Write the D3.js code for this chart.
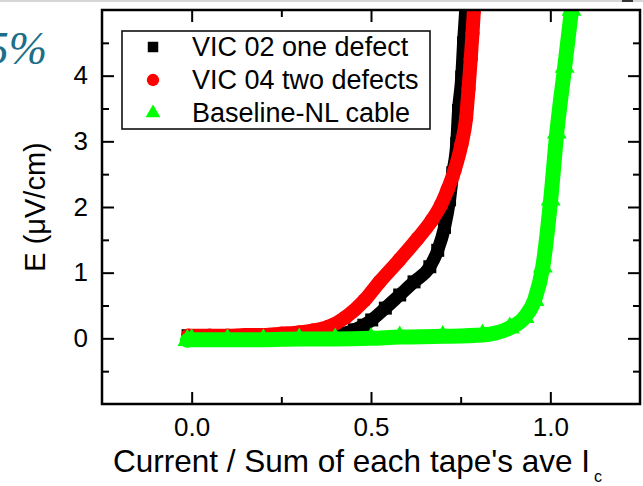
<!DOCTYPE html>
<html>
<head>
<meta charset="utf-8">
<script src="https://cdn.jsdelivr.net/npm/d3@7"></script>
<style>
    body { margin: 0; background: #fff; }
    svg { display: block; font-family: "Liberation Sans", Arial, sans-serif; }
</style>
</head>
<body>
<div id="chart"></div>
<script>
// values: current / sum of tape Ic  vs  E (uV/cm)
const vic02Current = [-0.01, 0.05, 0.1, 0.15, 0.2, 0.25, 0.3, 0.35, 0.4, 0.43, 0.454, 0.48, 0.502, 0.54, 0.58, 0.62, 0.664, 0.686, 0.705, 0.719, 0.728, 0.739, 0.744, 0.753, 0.758, 0.764];
const vic02Field   = [0.04, 0.04, 0.04, 0.04, 0.04, 0.04, 0.05, 0.05, 0.06, 0.08, 0.13, 0.2, 0.28, 0.46, 0.66, 0.86, 1.09, 1.34, 1.69, 2.11, 2.52, 2.97, 3.47, 3.98, 4.5, 5.0];

const vic04Current = [-0.01, 0.05, 0.1, 0.15, 0.2, 0.25, 0.3, 0.34, 0.379, 0.429, 0.482, 0.524, 0.58, 0.63, 0.67, 0.695, 0.714, 0.733, 0.752, 0.765, 0.772, 0.778, 0.783, 0.787];
const vic04Field   = [0.04, 0.04, 0.04, 0.05, 0.05, 0.07, 0.09, 0.12, 0.17, 0.32, 0.58, 0.86, 1.2, 1.52, 1.8, 2.03, 2.27, 2.56, 2.95, 3.35, 3.8, 4.25, 4.65, 5.0];

const baselineCurrent = [-0.012, 0.0, 0.1, 0.2, 0.3, 0.4, 0.5, 0.58, 0.7, 0.811, 0.887, 0.928, 0.956, 0.979, 1.001, 1.018, 1.04, 1.059];
const baselineField   = [-0.03, -0.02, -0.02, -0.02, -0.01, -0.01, 0.0, 0.02, 0.03, 0.05, 0.16, 0.32, 0.58, 1.09, 2.11, 3.13, 4.13, 5.0];

const seriesNames = ["VIC 02 one defect", "VIC 04 two defects", "Baseline-NL cable"];

const xMajorTicks = [0, 0.5, 1.0];
const xMinorTicks = [0.25, 0.75];
const yMajorTicks = [0, 1, 2, 3, 4];
const yMinorTicks = [-0.5, 0.5, 1.5, 2.5, 3.5, 4.5];

class EFieldChart {
    constructor(parentElement, series) {
        this.parentElement = parentElement;
        this.series = series;

        this.initVis();
    }

    initVis() {
        let vis = this;

        vis.width = 643;
        vis.height = 486;
        vis.frame = {left: 102, right: 640, top: 10, bottom: 404};

        vis.svg = d3.select("#" + vis.parentElement).append("svg")
            .attr("width", vis.width)
            .attr("height", vis.height);

        // bits of the slide around the chart
        vis.svg.append("rect")
            .attr("x", 0).attr("y", 0)
            .attr("width", vis.width).attr("height", 2)
            .attr("fill", "#d6d6d6");
        vis.svg.append("rect")
            .attr("x", 622).attr("y", 0)
            .attr("width", 11).attr("height", 2)
            .attr("fill", "#333");
        vis.svg.append("text")
            .attr("x", 47).attr("y", 64)
            .attr("text-anchor", "end")
            .attr("font-family", "'Liberation Serif', 'DejaVu Serif', serif")
            .attr("font-style", "italic")
            .attr("font-size", 46)
            .attr("fill", "#1d6f89")
            .text("5%");

        // scales
        vis.x = d3.scaleLinear()
            .domain([-0.25, 1.25])
            .range([vis.frame.left, vis.frame.right]);

        vis.y = d3.scaleLinear()
            .domain([-1, 5])
            .range([vis.frame.bottom, vis.frame.top]);

        vis.svg.append("clipPath")
            .attr("id", "plot-clip")
            .append("rect")
            .attr("x", vis.frame.left)
            .attr("y", vis.frame.top)
            .attr("width", vis.frame.right - vis.frame.left)
            .attr("height", vis.frame.bottom - vis.frame.top);

        vis.drawAxes();
        vis.updateVis();
    }

    styleAxis(g, fontSize) {
        g.select(".domain").remove();
        g.attr("font-family", null).attr("font-size", null);
        g.selectAll("line").attr("stroke", "#000").attr("stroke-width", 2);
        g.selectAll("text").attr("fill", "#000").attr("font-size", fontSize);
    }

    drawAxes() {
        let vis = this;
        let f = vis.frame;
        let noLabel = () => "";

        // bottom, labelled
        vis.svg.append("g")
            .attr("transform", "translate(0," + f.bottom + ")")
            .call(d3.axisBottom(vis.x).tickValues(xMajorTicks).tickSize(-12).tickPadding(14)
                .tickFormat(d3.format(".1f")))
            .call(g => vis.styleAxis(g, 26));
        vis.svg.append("g")
            .attr("transform", "translate(0," + f.bottom + ")")
            .call(d3.axisBottom(vis.x).tickValues(xMinorTicks).tickSize(-7).tickFormat(noLabel))
            .call(g => vis.styleAxis(g, 26));

        // top mirror
        vis.svg.append("g")
            .attr("transform", "translate(0," + f.top + ")")
            .call(d3.axisTop(vis.x).tickValues(xMajorTicks).tickSize(-12).tickFormat(noLabel))
            .call(g => vis.styleAxis(g, 26));
        vis.svg.append("g")
            .attr("transform", "translate(0," + f.top + ")")
            .call(d3.axisTop(vis.x).tickValues(xMinorTicks).tickSize(-7).tickFormat(noLabel))
            .call(g => vis.styleAxis(g, 26));

        // left, labelled
        vis.svg.append("g")
            .attr("transform", "translate(" + f.left + ",0)")
            .call(d3.axisLeft(vis.y).tickValues(yMajorTicks).tickSize(-12).tickPadding(14)
                .tickFormat(d3.format("d")))
            .call(g => vis.styleAxis(g, 26));
        vis.svg.append("g")
            .attr("transform", "translate(" + f.left + ",0)")
            .call(d3.axisLeft(vis.y).tickValues(yMinorTicks).tickSize(-7).tickFormat(noLabel))
            .call(g => vis.styleAxis(g, 26));

        // right mirror
        vis.svg.append("g")
            .attr("transform", "translate(" + f.right + ",0)")
            .call(d3.axisRight(vis.y).tickValues(yMajorTicks).tickSize(-12).tickFormat(noLabel))
            .call(g => vis.styleAxis(g, 26));
        vis.svg.append("g")
            .attr("transform", "translate(" + f.right + ",0)")
            .call(d3.axisRight(vis.y).tickValues(yMinorTicks).tickSize(-7).tickFormat(noLabel))
            .call(g => vis.styleAxis(g, 26));

        // frame
        vis.svg.append("rect")
            .attr("x", f.left).attr("y", f.top)
            .attr("width", f.right - f.left)
            .attr("height", f.bottom - f.top)
            .attr("fill", "none")
            .attr("stroke", "#000")
            .attr("stroke-width", 2.5);

        // axis titles
        let xTitle = vis.svg.append("text")
            .attr("x", 113)
            .attr("y", 472)
            .attr("font-size", 31.5)
            .attr("fill", "#000")
            .text("Current / Sum of each tape's ave I");
        xTitle.append("tspan")
            .attr("dy", 10)
            .attr("dx", 4)
            .attr("font-size", 16)
            .text("c");

        vis.svg.append("text")
            .attr("transform", "rotate(-90)")
            .attr("x", -(f.top + f.bottom) / 2)
            .attr("y", 45)
            .attr("text-anchor", "middle")
            .attr("font-size", 29)
            .attr("fill", "#000")
            .text("E (\u03bcV/cm)");
    }

    updateVis() {
        let vis = this;

        let line = d3.line()
            .x(d => vis.x(d[0]))
            .y(d => vis.y(d[1]))
            .curve(d3.curveMonotoneX);

        let plot = vis.svg.insert("g", "rect + g, g")
            .attr("clip-path", "url(#plot-clip)");

        vis.series.forEach(s => {
            let pts = s.xs.map((v, i) => [v, s.ys[i]]);

            plot.append("path")
                .datum(pts)
                .attr("d", line)
                .attr("fill", "none")
                .attr("stroke", s.color)
                .attr("stroke-width", s.band)
                .attr("stroke-linecap", "round")
                .attr("stroke-linejoin", "round");

            plot.selectAll(null)
                .data(pts)
                .join("path")
                .attr("transform", d => "translate(" + vis.x(d[0]) + "," + vis.y(d[1]) + ")")
                .attr("d", d3.symbol().type(s.symbol).size(s.size))
                .attr("fill", s.color);
        });

        // legend
        let legend = vis.svg.append("g");
        legend.append("rect")
            .attr("x", 122).attr("y", 31)
            .attr("width", 308).attr("height", 98)
            .attr("fill", "#fff")
            .attr("stroke", "#000")
            .attr("stroke-width", 1.5);

        let rows = legend.selectAll(".entry")
            .data(vis.series)
            .join("g")
            .attr("class", "entry")
            .attr("transform", (d, i) => "translate(153," + (47 + i * 33) + ")");

        rows.append("path")
            .attr("d", d => d3.symbol().type(d.symbol).size(d.legendSize)())
            .attr("fill", d => d.color);

        rows.append("text")
            .attr("x", 39)
            .attr("y", 9)
            .attr("font-size", 27)
            .attr("fill", "#000")
            .text(d => d.name);
    }
}

const series = [
    {name: seriesNames[0], xs: vic02Current, ys: vic02Field, color: "#000000",
        symbol: d3.symbolSquare, size: 169, band: 13, legendSize: 110},
    {name: seriesNames[1], xs: vic04Current, ys: vic04Field, color: "#ff0000",
        symbol: d3.symbolCircle, size: 160, band: 14, legendSize: 120},
    {name: seriesNames[2], xs: baselineCurrent, ys: baselineField, color: "#00ff00",
        symbol: d3.symbolTriangle, size: 170, band: 15, legendSize: 95}
];

new EFieldChart("chart", series);
</script>
</body>
</html>
